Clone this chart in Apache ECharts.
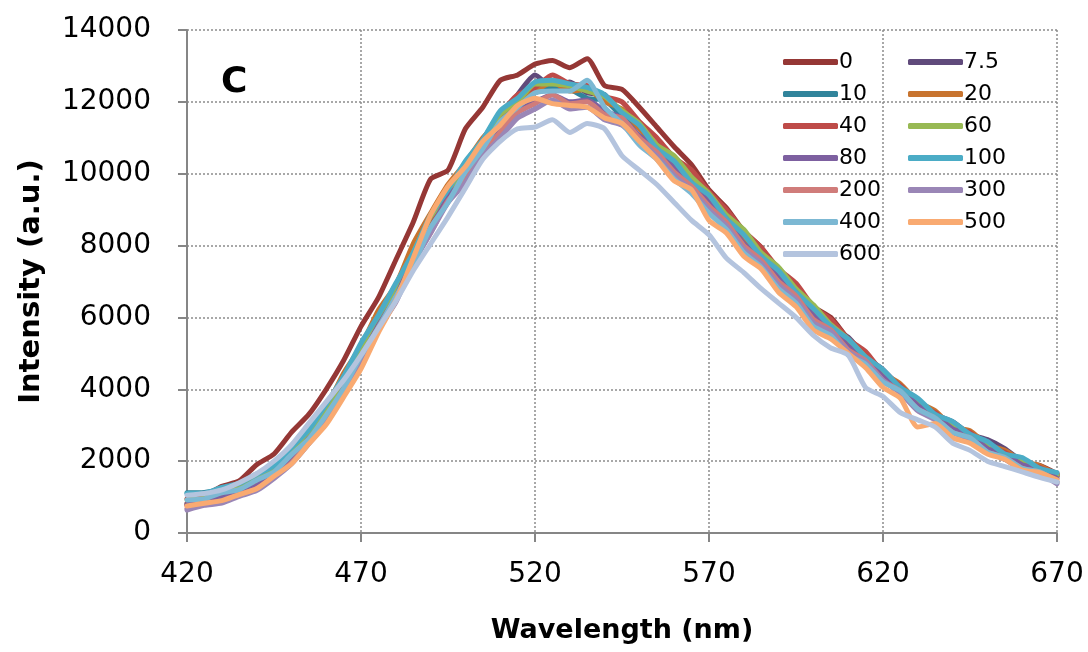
<!DOCTYPE html>
<html>
<head>
<meta charset="utf-8">
<script src="https://cdn.jsdelivr.net/npm/echarts@6/dist/echarts.min.js"></script>
<style>html,body{margin:0;padding:0;background:#fff}#c{width:1088px;height:652px}</style>
</head>
<body>
<div id="c"></div>
<script>
const wavelengths = [420,425,430,435,440,445,450,455,460,465,470,475,480,485,490,495,500,505,510,515,520,525,530,535,540,545,550,555,560,565,570,575,580,585,590,595,600,605,610,615,620,625,630,635,640,645,650,655,660,665,670];
const xTicks = [420,470,520,570,620,670];
const yTicks = [0,2000,4000,6000,8000,10000,12000,14000];
const seriesNames = ['0','7.5','10','20','40','60','80','100','200','300','400','500','600'];

const s0   = [950,1050,1300,1450,1900,2200,2800,3300,4000,4800,5750,6550,7600,8650,9850,10100,11250,11850,12600,12750,13050,13150,12950,13200,12450,12350,11850,11300,10750,10250,9550,9050,8400,7950,7250,6850,6300,6000,5400,4950,4450,4100,3600,3350,2950,2800,2450,2300,1950,1880,1650];
const s7_5 = [830,950,1050,1220,1380,1720,2100,2680,3200,4080,4900,5820,6600,7650,8550,9400,9950,10950,11500,12200,12750,12400,12550,12250,12200,11600,11350,10700,10350,9750,9400,8750,8300,7700,7300,6650,6300,5700,5450,4900,4550,4050,3700,3300,3100,2750,2600,2350,2000,1850,1580];
const s10  = [1120,1130,1230,1370,1640,1820,2350,2760,3450,4150,5150,5800,6800,7600,8750,9400,10200,10700,11550,11900,12250,12400,12350,12100,12050,11600,11250,10650,10300,9750,9300,8750,8250,7650,7250,6650,6200,5700,5350,4900,4500,4000,3700,3250,3050,2700,2500,2150,2050,1760,1620];
const s20  = [800,970,1030,1280,1420,1840,2260,2900,3500,4450,5200,6200,6900,8050,8900,9700,10300,11000,11500,12100,12300,12550,12300,12350,12000,11800,11250,10800,10250,9850,9300,8850,8200,7800,7200,6800,6150,5850,5300,5000,4450,4150,3650,3400,2950,2850,2450,2300,2000,1880,1620];
const s40  = [760,920,1000,1180,1350,1730,2120,2740,3300,4200,4950,6000,6650,7800,8650,9450,10100,10950,11650,12200,12400,12750,12500,12450,12150,12000,11450,11000,10450,10100,9500,9000,8400,7950,7350,6950,6300,5950,5400,5050,4450,4100,3600,3350,2950,2800,2400,2250,1950,1830,1580];
const s60  = [920,960,1140,1240,1510,1770,2280,2770,3480,4220,5180,5970,6850,7800,8800,9450,10250,10850,11650,12000,12500,12500,12450,12300,12150,11750,11400,10800,10500,9900,9450,8850,8450,7800,7400,6800,6350,5800,5400,4900,4500,4000,3700,3250,3050,2700,2500,2150,2020,1770,1600];
const s80  = [790,900,980,1150,1310,1680,2050,2630,3170,4030,4870,5780,6570,7650,8450,9350,9900,10650,11200,11750,12000,12200,12000,12050,11750,11550,11050,10700,10150,9750,9200,8750,8050,7700,7100,6700,6050,5750,5200,4900,4350,4050,3550,3300,2900,2750,2350,2200,1900,1780,1520];
const s100 = [1100,1110,1270,1380,1630,1870,2380,2870,3590,4360,5290,6060,6950,7800,8850,9550,10350,10950,11750,12100,12550,12600,12500,12400,12200,11700,11350,10700,10350,9750,9400,8750,8300,7700,7300,6700,6250,5750,5400,4900,4550,4050,3750,3300,3100,2750,2550,2200,2100,1800,1680];
const s200 = [680,820,880,1070,1230,1570,1950,2530,3070,3930,4770,5730,6470,7550,8350,9250,9800,10600,11150,11700,11950,12200,11950,12000,11650,11550,11000,10600,10050,9650,9100,8650,8000,7600,7000,6600,5950,5650,5100,4800,4250,3950,3450,3200,2800,2650,2250,2100,1800,1700,1420];
const s300 = [640,770,830,1020,1180,1520,1920,2480,3070,3930,4720,5680,6420,7500,8350,9200,9750,10500,11000,11550,11800,12050,11800,11850,11500,11350,10900,10500,9950,9550,9000,8550,7900,7500,6900,6500,5850,5600,5050,4750,4250,3900,3400,3150,2800,2600,2250,2050,1750,1650,1370];
const s400 = [920,950,1120,1210,1470,1700,2180,2620,3280,4020,4930,5720,6580,7450,8500,9200,10050,10700,11450,11850,12250,12300,12300,12600,11850,11400,10800,10400,9850,9450,8900,8450,7800,7400,6800,6400,5750,5500,4950,4700,4200,3950,3450,3200,2800,2650,2250,2100,1800,1700,1420];
const s500 = [750,830,900,1070,1230,1580,1920,2480,3020,3780,4570,5580,6470,7650,8850,9650,10200,10900,11350,11900,12100,11950,11900,11850,11550,11400,10900,10400,9800,9550,8700,8350,7700,7350,6700,6300,5650,5400,5000,4600,4050,3750,2950,3050,2650,2500,2200,2050,1750,1680,1480];
const s600 = [1050,1100,1200,1400,1650,2000,2450,3050,3650,4250,4950,5700,6450,7300,8050,8800,9600,10400,10900,11250,11300,11500,11150,11400,11250,10500,10100,9700,9200,8700,8300,7650,7250,6800,6400,6000,5500,5150,4950,4050,3800,3350,3150,2950,2500,2300,2000,1850,1700,1550,1420];

const seriesValues = [s0,s7_5,s10,s20,s40,s60,s80,s100,s200,s300,s400,s500,s600];
const colors = ['#953735','#604A7B','#31849B','#C8742F','#BE4B48','#98B954','#7D60A0','#4BACC6','#D07C7A','#9A86B6','#7CB8D3','#F9AA71','#B4C4DE'];

const FONT = 'DejaVu Sans';
const chart = echarts.init(document.getElementById('c'), null, {renderer:'canvas'});
const legendLeft = ['0','10','40','80','200','400','600'];
const legendRight = ['7.5','20','60','100','300','500'];
const legendCommon = {
  orient:'vertical', top:46, itemWidth:55, itemHeight:6, itemGap:10, icon:'roundRect',
  textStyle:{fontFamily:FONT, fontSize:22, color:'#000', lineHeight:22, padding:[0,0,0,-4]},
  selectedMode:false
};
chart.setOption({
  animation:false,
  color:colors,
  title:{text:'C', left:216, top:60, textStyle:{fontFamily:FONT, fontSize:36, fontWeight:'bold', color:'#000'}},
  legend:[
    Object.assign({left:778, data:legendLeft}, legendCommon),
    Object.assign({left:903, data:legendRight}, legendCommon)
  ],
  grid:{left:187, right:31, top:30, bottom:119},
  xAxis:{
    type:'value', min:xTicks[0], max:xTicks[xTicks.length-1], interval:xTicks[1]-xTicks[0],
    name:'Wavelength (nm)', nameLocation:'middle', nameGap:84,
    nameTextStyle:{fontFamily:FONT, fontSize:27, fontWeight:'bold', color:'#000'},
    axisLine:{show:true, onZero:false, lineStyle:{color:'#868686', width:2}},
    axisTick:{show:true, length:9, lineStyle:{color:'#868686', width:2}},
    axisLabel:{fontFamily:FONT, fontSize:28, color:'#000', margin:28, formatter:v=>String(v)},
    splitLine:{show:true, lineStyle:{color:'#8c8c8c', type:[2,2], width:1.5}}
  },
  yAxis:{
    type:'value', min:yTicks[0], max:yTicks[yTicks.length-1], interval:yTicks[1]-yTicks[0],
    name:'Intensity (a.u.)', nameLocation:'middle', nameGap:141,
    nameTextStyle:{fontFamily:FONT, fontSize:29, fontWeight:'bold', color:'#000'},
    axisLine:{show:true, lineStyle:{color:'#868686', width:2}},
    axisTick:{show:true, length:9, lineStyle:{color:'#868686', width:2}},
    axisLabel:{fontFamily:FONT, fontSize:28, color:'#000', margin:36, formatter:v=>String(v)},
    splitLine:{show:true, lineStyle:{color:'#8c8c8c', type:[2,2], width:1.5}}
  },
  series: seriesNames.map((n,i)=>({
    name:n, type:'line', showSymbol:false, smooth:0.2,
    lineStyle:{width:5, cap:'round', join:'round', color:colors[i]},
    itemStyle:{color:colors[i]},
    data: wavelengths.map((w,j)=>[w, seriesValues[i][j]])
  }))
});
</script>
</body>
</html>
